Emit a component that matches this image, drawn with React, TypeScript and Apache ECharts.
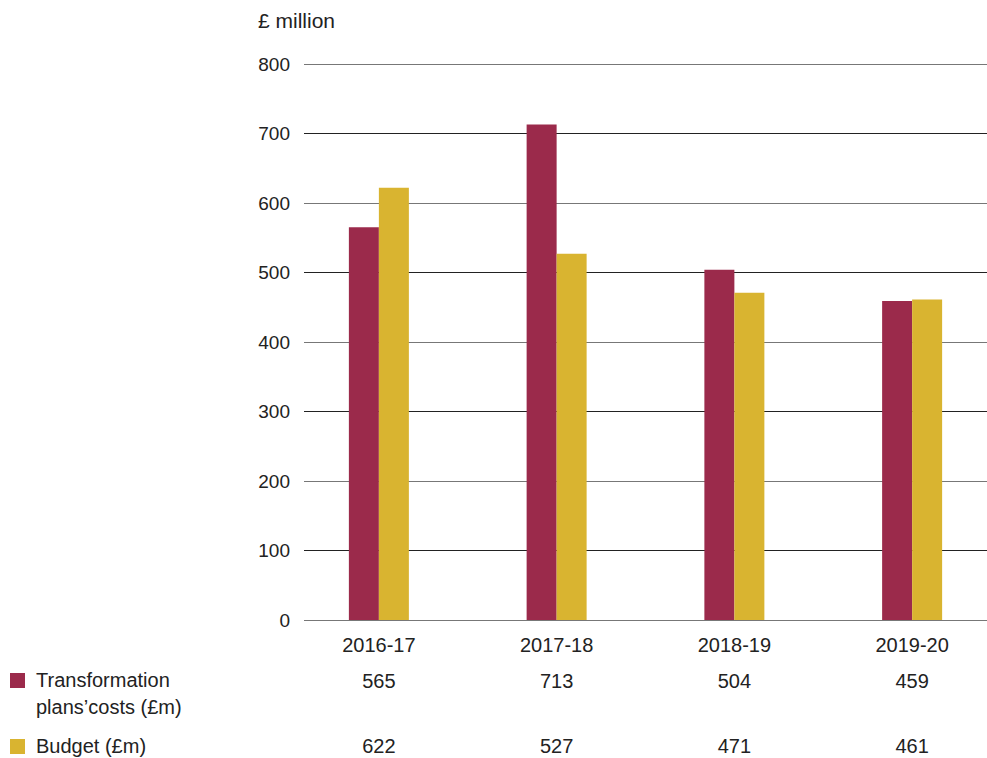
import React, { useEffect, useRef } from "react";
import * as echarts from "echarts";

const years = ["2016-17", "2017-18", "2018-19", "2019-20"];
const costs = [565, 713, 504, 459];
const budget = [622, 527, 471, 461];
const yTicks = [0, 100, 200, 300, 400, 500, 600, 700, 800];
const seriesNames = ["Transformation plans\u2019costs (£m)", "Budget (£m)"];
const legendLines = [["Transformation", "plans\u2019costs (£m)"], ["Budget (£m)"]];
const colors = ["#9B2A4B", "#D9B430"];

const FONT = "Liberation Sans";
const TXT = "#222";

export default function App() {
  const ref = useRef<HTMLDivElement>(null);
  useEffect(() => {
    if (!ref.current) return;
    const chart = echarts.init(ref.current, null, { renderer: "svg" });
    const yMin = yTicks[0];
    const yMax = yTicks[yTicks.length - 1];
    const interval = yTicks[1] - yTicks[0];
    const tableAxis = (vals: number[], offset: number) => ({
      type: "category",
      gridIndex: 0,
      position: "bottom",
      offset,
      data: vals.map(String),
      axisLine: { show: false },
      axisTick: { show: false },
      axisLabel: { fontFamily: FONT, fontSize: 20, color: TXT, margin: 15 },
    });
    const legendGraphics: any[] = [];
    const legendTops = [673, 739];
    legendLines.forEach((lines, i) => {
      legendGraphics.push({
        type: "rect",
        left: 10,
        top: legendTops[i],
        shape: { width: 15, height: 15 },
        style: { fill: colors[i] },
      });
      legendGraphics.push({
        type: "text",
        left: 36,
        top: legendTops[i] - 7,
        style: {
          text: lines.join("\n"),
          fontFamily: FONT,
          fontSize: 20,
          lineHeight: 27,
          fill: TXT,
        },
      });
    });
    chart.setOption({
      animation: false,
      grid: [
        { left: 290, width: 711, top: 64, bottom: 138, outerBoundsMode: "none" },
        { left: 304, right: 0, top: 64, bottom: 138, outerBoundsMode: "none" },
      ],
      xAxis: [
        {
          type: "category",
          gridIndex: 0,
          data: years,
          axisLine: { show: false },
          axisTick: { show: false },
          axisLabel: { fontFamily: FONT, fontSize: 20, color: TXT, margin: 15 },
        },
        { type: "category", gridIndex: 1, data: years, show: false },
        tableAxis(costs, 36),
        tableAxis(budget, 101),
      ],
      yAxis: [
        { type: "value", gridIndex: 0, min: yMin, max: yMax, interval, show: false },
        {
          type: "value",
          gridIndex: 1,
          min: yMin,
          max: yMax,
          interval,
          axisLine: { show: false },
          axisTick: { show: false },
          axisLabel: { fontFamily: FONT, fontSize: 19, color: TXT, margin: 14 },
          splitLine: { show: true, lineStyle: { color: ["#777", "#222"], width: 1 } },
        },
      ],
      graphic: [
        {
          type: "text",
          left: 258,
          top: 10,
          style: { text: "£ million", fontFamily: FONT, fontSize: 21, fill: TXT },
        },
        ...legendGraphics,
      ],
      series: [
        {
          type: "bar",
          name: seriesNames[0],
          xAxisIndex: 0,
          yAxisIndex: 0,
          data: costs,
          barWidth: 30,
          barGap: "0%",
          itemStyle: { color: colors[0] },
          z: 5,
        },
        {
          type: "bar",
          name: seriesNames[1],
          xAxisIndex: 0,
          yAxisIndex: 0,
          data: budget,
          barWidth: 30,
          barGap: "0%",
          itemStyle: { color: colors[1] },
          z: 5,
        },
      ],
    });
    return () => chart.dispose();
  }, []);
  return (
    <div
      ref={ref}
      style={{ position: "fixed", left: 0, top: 0, width: 987, height: 758, background: "#fff" }}
    />
  );
}
